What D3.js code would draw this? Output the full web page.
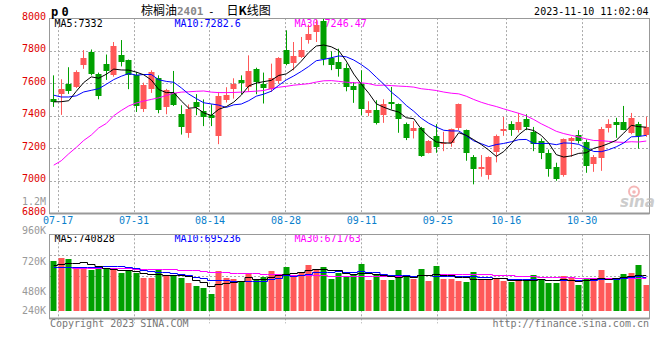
<!DOCTYPE html>
<html><head><meta charset="utf-8">
<script src="https://cdn.jsdelivr.net/npm/d3@7"></script>
<style>
html,body{margin:0;padding:0;background:#fff;}
svg{display:block;}
</style></head><body>
<svg id="c" width="660" height="360"></svg>
<script>
// ---------- data ----------
const dates = ["07-14","07-17","07-18","07-19","07-20","07-21","07-24","07-25","07-26","07-27","07-28","07-31",
"08-01","08-02","08-03","08-04","08-07","08-08","08-09","08-10","08-11","08-14","08-15","08-16","08-17","08-18",
"08-21","08-22","08-23","08-24","08-25","08-28","08-29","08-30","08-31","09-01","09-04","09-05","09-06","09-07","09-08",
"09-11","09-12","09-13","09-14","09-15","09-18","09-19","09-20","09-21","09-22","09-25","09-26","09-27","09-28",
"10-09","10-10","10-11","10-12","10-13","10-16","10-17","10-18","10-19","10-20","10-23","10-24","10-25","10-26","10-27",
"10-30","10-31","11-01","11-02","11-03","11-06","11-07","11-08","11-09","11-10"];
const open = [7505,7532,7595,7577,7710,7789,7655,7716,7650,7771,
7741,7648,7440,7565,7632,7454,7540,7409,7291,7483,
7430,7402,7275,7495,7563,7618,7577,7685,7597,7563,
7614,7802,7726,7761,7863,7914,7985,7757,7730,7696,
7583,7597,7417,7434,7403,7485,7471,7348,7307,7325,
7172,7276,7223,7235,7327,7311,7147,7072,7035,7174,
7307,7348,7311,7378,7301,7244,7170,7086,7035,7246,
7280,7239,7102,7141,7325,7362,7362,7291,7352,7280];
const high = [7648,7624,7698,7679,7803,7807,7665,7776,7853,7865,
7745,7669,7603,7679,7648,7565,7675,7464,7469,7533,
7500,7470,7546,7575,7630,7648,7771,7695,7665,7720,
7760,7925,7853,7884,7960,7990,8010,7796,7812,7720,
7607,7679,7489,7495,7501,7577,7475,7358,7366,7331,
7250,7348,7301,7321,7475,7315,7158,7158,7150,7284,
7393,7366,7417,7409,7331,7260,7192,7111,7260,7270,
7311,7254,7158,7331,7378,7387,7460,7417,7362,7393];
const low = [7454,7405,7534,7570,7688,7648,7501,7620,7640,7703,
7563,7423,7423,7540,7415,7409,7460,7284,7264,7403,
7336,7336,7225,7481,7505,7532,7546,7532,7475,7546,
7597,7710,7679,7755,7843,7853,7710,7680,7640,7550,
7479,7403,7397,7346,7356,7438,7295,7250,7260,7147,
7168,7172,7182,7209,7311,7123,6978,7025,7008,7113,
7276,7276,7297,7311,7182,7133,7025,7000,7025,7147,
7229,7049,7055,7061,7297,7264,7311,7286,7198,7270];
const close = [7482,7562,7552,7667,7757,7655,7521,7674,7826,7730,
7650,7460,7591,7669,7434,7555,7466,7331,7444,7454,
7391,7388,7520,7526,7593,7603,7673,7607,7571,7632,
7755,7720,7765,7802,7900,7955,7751,7710,7685,7577,
7557,7440,7434,7358,7471,7471,7378,7260,7327,7151,
7246,7209,7233,7317,7471,7168,7072,7086,7147,7276,
7317,7311,7362,7331,7223,7168,7072,7010,7256,7260,
7244,7090,7147,7317,7348,7342,7311,7387,7276,7330];
const volume = [1025000,1093000,1066000,908000,908000,841000,875000,888000,841000,785000,
820000,785000,683000,683000,855000,718000,718000,683000,580000,513000,
478000,349000,820000,683000,656000,588000,752000,636000,691000,820000,
759000,908000,738000,806000,943000,861000,908000,656000,785000,724000,
738000,964000,636000,738000,636000,636000,841000,703000,656000,861000,
615000,923000,656000,656000,615000,595000,806000,656000,656000,683000,
615000,601000,636000,636000,732000,636000,580000,580000,718000,691000,
533000,670000,636000,841000,580000,670000,759000,785000,943000,533000];
// moving-average values for days whose window starts before the first candle
const ma5Head = [7485,7486,7492,7550];
const ma10Head = [7526,7515,7515,7522,7546,7556,7566,7593,7622];
const ma30Head = [7096,7123,7166,7205,7248,7281,7325,7352,7400,7432,7460,7478,7490,7500,7510,7524,7538,7545,7547,7550,7552,7545,7542,7542,7543,7545,7548,7551,7555];
const volMa5Head = [937000,957000,978000,990000];
const volMa10Head = [905000,905000,906000,907000,908000,910000,912000,915000,918000];
const volMa30Head = [896000,896000,893000,889000,889000,889000,886000,882000,882000,879000,875000,868000,861000,858000,858000,855000,855000,844000,841000,834000,820000,806000,800000,793000,786000,779000,772000,772000,765000];
const priceTicks = [8000,7800,7600,7400,7200,7000,6800];
const xTickDates = ["07-17","07-31","08-14","08-28","09-11","09-25","10-16","10-30"];
const volTicks = [240000,480000,720000,960000];
const maLabels = ["MA5:7332","MA10:7282.6","MA30:7246.47"];
const volMaLabels = ["MA5:740828","MA10:695236","MA30:671763"];

// ---------- layout ----------
const L = 50, R = 650, mainTop = 18.1, mainBot = 213.3, volTop = 234.3, volBot = 318.3, volBase = 311;
const RED = "#ff5858", GREEN = "#00a000", GRID = "#aaa", MONO = "'DejaVu Sans Mono', monospace";
const n = dates.length;
const svg = d3.select("#c");

const xBand = d3.scaleBand().domain(d3.range(n)).range([L, R]).paddingInner(0.2).paddingOuter(0.1);
const xPt = d3.scalePoint().domain(d3.range(n)).range([L, R]);
const bw = xBand.bandwidth();
const cx = i => xBand(i) + bw / 2;
const y = d3.scaleLinear().domain([6800, 8000]).range([mainBot, mainTop]);
const yV = d3.scaleLinear().domain([0, 1000000]).range([volBase, volBase - 1000000 / 20500]);
const yVLabel = d3.scaleLinear().domain(volTicks).range([310.5, 291, 261.3, 230.3]);

function movingAvg(vals, k, head) {
  return vals.map((v, i) => i < k - 1 ? head[i] : d3.mean(vals.slice(i - k + 1, i + 1)));
}
const ma5 = movingAvg(close, 5, ma5Head), ma10 = movingAvg(close, 10, ma10Head), ma30 = movingAvg(close, 30, ma30Head);
const vma5 = movingAvg(volume, 5, volMa5Head), vma10 = movingAvg(volume, 10, volMa10Head), vma30 = movingAvg(volume, 30, volMa30Head);

const tickIdx = xTickDates.map(d => dates.indexOf(d));
const px = v => Math.round(v) + 0.5;

// ---------- clip ----------
const defs = svg.append("defs");
defs.append("clipPath").attr("id", "mclip").append("rect")
  .attr("x", L).attr("y", mainTop).attr("width", R - L - 0.5).attr("height", mainBot - mainTop);
defs.append("clipPath").attr("id", "vclip").append("rect")
  .attr("x", L).attr("y", volTop).attr("width", R - L - 0.5).attr("height", volBot - volTop);

// ---------- grids ----------
const grid = svg.append("g").attr("stroke", GRID).attr("stroke-dasharray", "2,2").attr("stroke-width", 1);
grid.selectAll(".hg").data(priceTicks.filter(v => v > 6800 && v < 8000)).join("line")
  .attr("x1", L).attr("x2", R - 0.5).attr("y1", d => px(y(d))).attr("y2", d => px(y(d)));
grid.selectAll(".vg").data(tickIdx).join("line")
  .attr("x1", d => px(xPt(d))).attr("x2", d => px(xPt(d))).attr("y1", mainTop).attr("y2", mainBot);
grid.selectAll(".vg2").data(tickIdx).join("line")
  .attr("x1", d => px(xPt(d))).attr("x2", d => px(xPt(d))).attr("y1", volTop).attr("y2", volBot + 5);
grid.selectAll(".hv").data([1, 2, 3]).join("line")
  .attr("x1", L).attr("x2", R - 0.5)
  .attr("y1", d => px(volTop + (volBot - volTop) * d / 4)).attr("y2", d => px(volTop + (volBot - volTop) * d / 4));

// ---------- MA labels (under candles) ----------
const maColors = ["#000", "#0000ff", "#ff00ff"];
const labelX = [54.5, 174.5, 294.5];
svg.append("g").selectAll("text").data(maLabels).join("text")
  .attr("x", (d, i) => labelX[i]).attr("y", 27).attr("fill", (d, i) => maColors[i])
  .style("font-family", MONO).style("font-size", "10px").text(d => d);
svg.append("g").selectAll("text").data(volMaLabels).join("text")
  .attr("x", (d, i) => labelX[i]).attr("y", 242).attr("fill", (d, i) => maColors[i])
  .style("font-family", MONO).style("font-size", "10px").text(d => d);

// ---------- candles ----------
const cg = svg.append("g").attr("clip-path", "url(#mclip)");
const idx = d3.range(n);
const col = i => close[i] >= open[i] ? RED : GREEN;
cg.selectAll(".wick").data(idx).join("line")
  .attr("x1", i => Math.floor(cx(i)) + 0.5).attr("x2", i => Math.floor(cx(i)) + 0.5)
  .attr("y1", i => y(high[i])).attr("y2", i => y(low[i]))
  .attr("stroke", col).attr("stroke-width", 1);
cg.selectAll(".body").data(idx).join("rect")
  .attr("x", i => Math.floor(cx(i)) - 2.5).attr("width", 6)
  .attr("y", i => Math.round(y(Math.max(open[i], close[i]))))
  .attr("height", i => Math.max(1, Math.round(y(Math.min(open[i], close[i]))) - Math.round(y(Math.max(open[i], close[i])))))
  .attr("fill", col);

// MA lines
const lineP = arr => d3.line().x((d, i) => cx(i)).y(d => y(d))(arr);
[ma30, ma10, ma5].forEach((arr, k) => {
  cg.append("path").attr("d", lineP(arr)).attr("fill", "none")
    .attr("stroke", ["#ff00ff", "#0000ff", "#000"][k]).attr("stroke-width", 1);
});

// ---------- volume ----------
const vg = svg.append("g").attr("clip-path", "url(#vclip)");
vg.selectAll("rect").data(idx).join("rect")
  .attr("x", i => Math.floor(cx(i)) - 2.5).attr("width", 6)
  .attr("y", i => Math.round(yV(volume[i]))).attr("height", i => Math.round(yV(0)) - Math.round(yV(volume[i])))
  .attr("fill", col);
const lineV = arr => d3.line().curve(d3.curveStep).x((d, i) => cx(i)).y(d => Math.round(yV(d)) + 0.5)(arr);
[vma30, vma10, vma5].forEach((arr, k) => {
  vg.append("path").attr("d", lineV(arr)).attr("fill", "none")
    .attr("stroke", ["#ff00ff", "#0000ff", "#000"][k]).attr("stroke-width", 1);
});

// ---------- frames ----------
svg.append("rect").attr("x", 49.5).attr("y", 18.5).attr("width", 600).attr("height", 195)
  .attr("fill", "none").attr("stroke", "#999");
svg.append("line").attr("x1", 49.5).attr("x2", 649.5).attr("y1", 213.5).attr("y2", 213.5).attr("stroke", "#999").attr("stroke-width", 2);
svg.append("rect").attr("x", 49.5).attr("y", 234.5).attr("width", 600).attr("height", 84)
  .attr("fill", "none").attr("stroke", "#999");
svg.append("line").attr("x1", 49.5).attr("x2", 649.5).attr("y1", 318.5).attr("y2", 318.5).attr("stroke", "#999").attr("stroke-width", 2);

// ---------- axes ----------
const ay = svg.append("g").attr("transform", `translate(${L},0)`)
  .call(d3.axisLeft(y).tickValues(priceTicks).tickSize(0).tickPadding(4).tickFormat(d3.format("d")));
ay.select(".domain").remove();
ay.selectAll("text").attr("fill", "#e00000").attr("dy", "0.1em").style("font-family", MONO).style("font-size", "10px");

const ax = svg.append("g").attr("transform", `translate(0,${mainBot})`)
  .call(d3.axisBottom(xPt).tickValues(tickIdx).tickSize(0).tickPadding(4).tickFormat(i => dates[i]));
ax.select(".domain").remove();
ax.selectAll("text").attr("fill", "#0a7fcc").style("font-family", MONO).style("font-size", "10px");

const av = svg.append("g").attr("transform", `translate(${L},0)`)
  .call(d3.axisLeft(yVLabel).tickValues(volTicks).tickSize(0).tickPadding(4).tickFormat(d => d / 1000 + "K"));
av.select(".domain").remove();
av.selectAll("text").attr("fill", "#999").style("font-family", MONO).style("font-size", "10px");

svg.append("text").attr("x", 46).attr("y", 204.5).attr("text-anchor", "end").attr("fill", "#999")
  .style("font-family", MONO).style("font-size", "10px").text("1.2M");

// ---------- header ----------
const p0 = svg.append("text").attr("y", 16).style("font-family", MONO).style("font-size", "12px").style("font-weight", "bold");
p0.append("tspan").attr("x", 51).text("p");
p0.append("tspan").attr("x", 61.5).text("0");

const title = svg.append("text").attr("y", 15).style("font-family", "'Noto Sans CJK SC', sans-serif").style("font-size", "12px").attr("fill", "#000");
title.append("tspan").attr("x", 141).text("棕榈油");
title.append("tspan").attr("x", 177).attr("fill", "#888").style("font-family", MONO).style("font-size", "11px").style("font-weight", "bold").text("2401");
title.append("tspan").attr("x", 208).style("font-family", MONO).style("font-size", "11px").text("-");
title.append("tspan").attr("x", 226.5).text("日");
title.append("tspan").style("font-weight", "bold").text("K");
title.append("tspan").text("线图");

svg.append("text").attr("x", 648.5).attr("y", 14.5).attr("text-anchor", "end").attr("fill", "#000")
  .style("font-family", MONO).style("font-size", "10px").text("2023-11-10 11:02:04");

// ---------- footer ----------
svg.append("text").attr("x", 50).attr("y", 327).attr("fill", "#777")
  .style("font-family", MONO).style("font-size", "10px").text("Copyright 2023 SINA.COM");
svg.append("text").attr("x", 649).attr("y", 327).attr("text-anchor", "end").attr("fill", "#777")
  .style("font-family", MONO).style("font-size", "10px").text("http://finance.sina.com.cn");

// ---------- watermark ----------
const wm = svg.append("g").attr("opacity", 0.75);
wm.append("circle").attr("cx", 634).attr("cy", 191.5).attr("r", 5).attr("fill", "none").attr("stroke", "#f2a0a0").attr("stroke-width", 2);
wm.append("circle").attr("cx", 634).attr("cy", 192).attr("r", 1.8).attr("fill", "#f2a0a0");
wm.append("text").attr("x", 620).attr("y", 207).attr("fill", "#bbb")
  .style("font-family", "'DejaVu Sans', sans-serif").style("font-size", "15px").style("font-weight", "bold").style("font-style", "italic").text("sina");
</script>
</body></html>
